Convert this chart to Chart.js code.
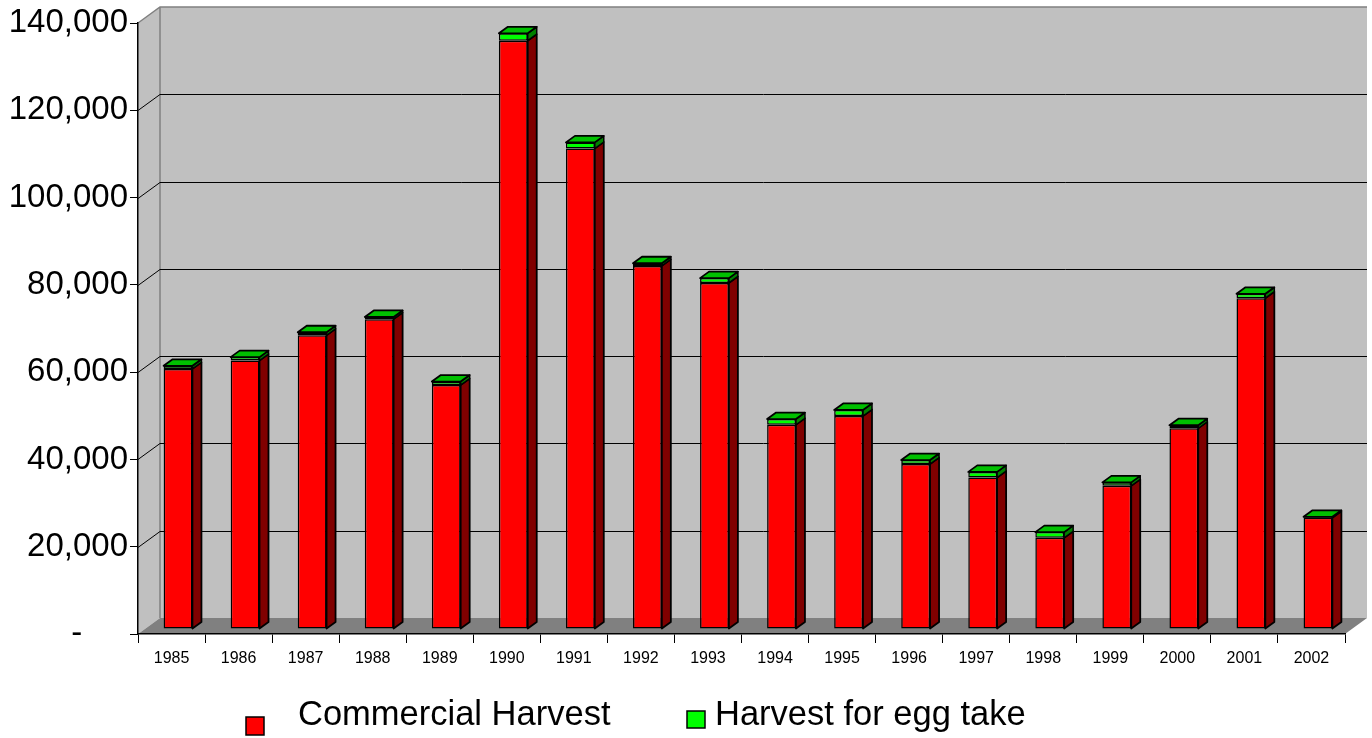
<!DOCTYPE html>
<html>
<head>
<meta charset="utf-8">
<script src="https://cdn.jsdelivr.net/npm/chart.js@4"></script>
<style>
  body { margin: 0; background: #fff; }
</style>
</head>
<body>
<canvas id="chart" width="1372" height="738"></canvas>
<script>
// Years on the x axis
const years = ['1985', '1986', '1987', '1988', '1989', '1990', '1991', '1992', '1993',
               '1994', '1995', '1996', '1997', '1998', '1999', '2000', '2001', '2002'];

// Harvest values
const commercial = [59600, 61500, 67300, 71000, 55900, 134800, 110100, 83200, 79300,
                    46800, 48800, 37800, 34700, 20900, 32800, 46000, 75800, 25500];
const eggTake = [700, 800, 700, 500, 800, 1700, 1400, 600, 1100,
                 1300, 1400, 900, 1300, 1300, 800, 700, 1000, 200];

// Series names and y axis ticks
const seriesNames = ['Commercial Harvest', 'Harvest for egg take'];
const yTicks = [0, 20000, 40000, 60000, 80000, 100000, 120000, 140000];

const FONT = "'Liberation Sans', Arial, sans-serif";

// 3D look: depth of the box and of the bars
const DX = 22, DY = -16;      // back wall offset
const OX = 6.5, OY = -5;      // bar front face offset
const BX = 9, BY = -6.5;      // bar depth

function poly(ctx, pts, fill, stroke, lw) {
    ctx.beginPath();
    ctx.moveTo(pts[0][0], pts[0][1]);
    for (let i = 1; i < pts.length; i++) ctx.lineTo(pts[i][0], pts[i][1]);
    ctx.closePath();
    if (fill) { ctx.fillStyle = fill; ctx.fill(); }
    if (stroke) { ctx.strokeStyle = stroke; ctx.lineWidth = lw || 1; ctx.stroke(); }
}

// Walls, floor, back grid lines, bar sides and the legend
const boxPlugin = {
    id: 'box3d',
    beforeDraw(chart) {
        const { ctx, chartArea: a } = chart;
        const L = a.left, R = a.right, T = a.top, B = a.bottom;
        ctx.save();
        poly(ctx, [[L + DX, T + DY], [R + DX, T + DY], [R + DX, B + DY], [L + DX, B + DY]], '#c0c0c0');
        poly(ctx, [[L, T], [L + DX, T + DY], [L + DX, B + DY], [L, B]], '#c0c0c0');
        poly(ctx, [[L, B], [L + DX, B + DY], [R + DX, B + DY], [R, B]], '#808080');
        ctx.strokeStyle = '#808080';
        ctx.lineWidth = 1.5;
        ctx.beginPath();
        ctx.moveTo(L, T);
        ctx.lineTo(L + DX, T + DY);
        ctx.lineTo(R + DX, T + DY);
        ctx.moveTo(L + DX, T + DY);
        ctx.lineTo(L + DX, B + DY);
        ctx.stroke();
        ctx.restore();
    },
    beforeDatasetsDraw(chart) {
        const { ctx, chartArea: a } = chart;
        const y = chart.scales.y;
        ctx.save();
        ctx.strokeStyle = '#000';
        ctx.lineWidth = 1;
        yTicks.forEach(v => {
            if (v === 0 || v === yTicks[yTicks.length - 1]) return;
            const py = Math.round(y.getPixelForValue(v)) + 0.5;
            ctx.beginPath();
            ctx.moveTo(a.left, py);
            ctx.lineTo(a.left + DX, py + DY);
            ctx.lineTo(a.right + DX, py + DY);
            ctx.stroke();
        });
        ctx.restore();
        // shift the bar front faces into the box
        ctx.save();
        ctx.translate(OX, OY);
    },
    afterDatasetsDraw(chart) {
        const ctx = chart.ctx;
        ctx.restore();
        const red = chart.getDatasetMeta(0).data;
        const green = chart.getDatasetMeta(1).data;
        ctx.save();
        ctx.lineJoin = 'round';
        for (let i = 0; i < red.length; i++) {
            const r = red[i], g = green[i];
            const left = r.x - r.width / 2 + OX;
            const right = r.x + r.width / 2 + OX;
            const bot = r.base + OY;
            const redTop = r.y + OY;
            const top = g.y + OY;
            poly(ctx, [[right, redTop], [right + BX, redTop + BY], [right + BX, bot + BY], [right, bot]], '#800000', '#000', 1.8);
            poly(ctx, [[right, top], [right + BX, top + BY], [right + BX, redTop + BY], [right, redTop]], '#008000', '#000', 1.5);
            poly(ctx, [[left, top], [left + BX, top + BY], [right + BX, top + BY], [right, top]], '#00c000', '#000', 1.8);
        }
        ctx.restore();
    },
    afterDraw(chart) {
        const ctx = chart.ctx;
        ctx.save();
        ctx.font = '34.5px ' + FONT;
        ctx.textBaseline = 'alphabetic';
        ctx.lineWidth = 1.5;
        ctx.strokeStyle = '#000';
        ctx.fillStyle = '#ff0000';
        ctx.fillRect(246, 717, 18, 18);
        ctx.strokeRect(246, 717, 18, 18);
        ctx.fillStyle = '#00ff00';
        ctx.fillRect(687, 711, 18, 17);
        ctx.strokeRect(687, 711, 18, 17);
        ctx.fillStyle = '#000';
        ctx.fillText(seriesNames[0], 298, 725);
        ctx.fillText(seriesNames[1], 715, 725);
        ctx.restore();
    }
};

new Chart(document.getElementById('chart'), {
    type: 'bar',
    data: {
        labels: years,
        datasets: [
            { label: seriesNames[0], data: commercial, backgroundColor: '#ff0000' },
            { label: seriesNames[1], data: eggTake, backgroundColor: '#00ff00' }
        ]
    },
    options: {
        responsive: false,
        devicePixelRatio: 1,
        animation: false,
        layout: { padding: { top: 23, right: 27, left: 0, bottom: 0 } },
        datasets: {
            bar: {
                borderColor: '#000',
                borderWidth: 1.5,
                borderSkipped: false,
                categoryPercentage: 1,
                barPercentage: 0.43
            }
        },
        plugins: {
            legend: { display: false },
            tooltip: { enabled: false }
        },
        scales: {
            x: {
                stacked: true,
                grid: { drawOnChartArea: false, tickLength: 9, color: '#000', offset: true },
                border: { color: '#000', width: 1.5 },
                ticks: { color: '#000', font: { family: FONT, size: 16 }, maxRotation: 0, autoSkip: false, padding: 6 },
                afterFit: s => { s.height = 104; }
            },
            y: {
                stacked: true,
                min: 0,
                max: 140000,
                afterBuildTicks: s => { s.ticks = yTicks.map(v => ({ value: v })); },
                grid: { drawOnChartArea: false, tickLength: 8, color: '#000' },
                border: { color: '#000', width: 1.5 },
                ticks: {
                    color: '#000',
                    font: { family: FONT, size: 33 },
                    padding: 2,
                    callback: v => v === 0 ? '-     ' : v.toLocaleString('en-US')
                },
                afterFit: s => { s.width = 138; }
            }
        }
    },
    plugins: [boxPlugin]
});
</script>
</body>
</html>
